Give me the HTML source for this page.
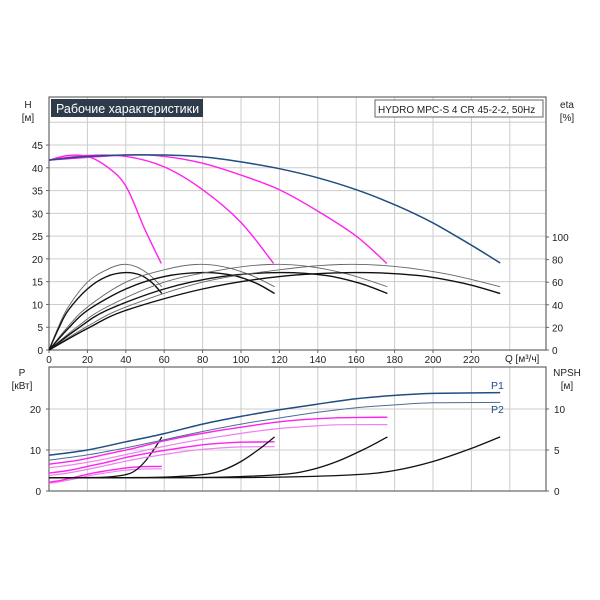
<!DOCTYPE html>
<html><head><meta charset="utf-8"><style>
body{margin:0;background:#fff}
svg{display:block;font-family:"Liberation Sans",sans-serif}
</style></head><body>
<svg id="c" width="600" height="600"></svg>
<script>
// ---------- data ----------
const qTicks=[0,20,40,60,80,100,120,140,160,180,200,220];
const hTicks=[0,5,10,15,20,25,30,35,40,45];
const etaTicks=[0,20,40,60,80,100];
const pTicks=[0,10,20];
const npshTicks=[0,5,10];
const pumpCounts=[1,2,3,4];
// H curves (Q, H)
const hBlueQ=[0,20,40,60,80,100,120,140,160,180,200,220,235];
const hBlueH=[41.7,42.5,42.8,42.8,42.4,41.3,39.8,37.8,35.2,31.9,27.9,23,19.1];
const h1Q=[0,10,20,30,40,50,58.5];
const h1H=[41.7,42.7,42.5,40.3,36,26.4,19];
const h2Q=[0,20,40,60,80,100,117];
const h2H=[41.7,42.7,42.5,40.2,35.2,28,19];
const h3Q=[0,40,60,80,100,120,140,160,176];
const h3H=[41.7,42.8,42.5,41,38.4,35.2,30.5,25,19];
// eta per single pump (scaled by pump count in Q)
const etaBaseQ=[0,5,10,20,30,38,45,52,58.75];
const etaThin=[0,21,38,60,71,75.7,74,67,56];
const etaThickQ=[0,5,10,20,30,40,48,54,58.75];
const etaThick=[0,19,35,54,65,68.5,66,59,50];
// power per pump (scaled by pump count)
const pBaseQ=[0,5,10,15,20,25,30,35,40,45,50,58.75];
const p1Base=[2.18,2.5,3,3.5,4.08,4.55,4.95,5.3,5.63,5.83,5.95,6.0];
const p2Base=[1.88,2.2,2.63,3.13,3.63,4.08,4.45,4.8,5.08,5.25,5.38,5.4];
// NPSH per pump (Q scaled by pump count)
const npshQ=[0,20,30,40,45,50,55,58.75];
const npshV=[1.62,1.63,1.7,2.0,2.5,3.6,5.2,6.6];

// ---------- axes ----------
const L=49,R=546,T1=97,B1=350,T2=367,B2=491;
const xQ=q=>L+q*1.92;
const yH=h=>B1-h*4.555;
const yEta=e=>B1-e*1.13;
const yP=p=>B2-p*4.1;
const yN=n=>B2-n*8.2;

const svg=document.getElementById('c');
const NS='http://www.w3.org/2000/svg';
function mk(tag,attrs,parent){const e=document.createElementNS(NS,tag);for(const k in attrs)e.setAttribute(k,attrs[k]);(parent||svg).appendChild(e);return e;}
function txt(x,y,s,anchor,size,fill,name){const t=mk('text',{x:x,y:y,'text-anchor':anchor||'start','font-size':size||11,fill:fill||'#222'});t.textContent=s;return t;}
function line(xs,ys,fx,fy,stroke,w,name){
  const P=xs.map((x,i)=>[fx(x),fy(ys[i])]);
  let d='M'+P[0][0].toFixed(1)+','+P[0][1].toFixed(1);
  for(let i=0;i<P.length-1;i++){
    const p0=P[i-1]||P[i],p1=P[i],p2=P[i+1],p3=P[i+2]||P[i+1];
    const c1=[p1[0]+(p2[0]-p0[0])/6,p1[1]+(p2[1]-p0[1])/6];
    const c2=[p2[0]-(p3[0]-p1[0])/6,p2[1]-(p3[1]-p1[1])/6];
    d+='C'+c1[0].toFixed(1)+','+c1[1].toFixed(1)+' '+c2[0].toFixed(1)+','+c2[1].toFixed(1)+' '+p2[0].toFixed(1)+','+p2[1].toFixed(1);
  }
  const p=mk('path',{d:d,fill:'none',stroke:stroke,'stroke-width':w});return p;}

// grids
const g=mk('g',{});


qTicks.concat([240]).forEach(q=>{if(q>0){mk('line',{x1:xQ(q),x2:xQ(q),y1:T1,y2:B1,stroke:'#ccc','stroke-width':1},g);mk('line',{x1:xQ(q),x2:xQ(q),y1:T2,y2:B2,stroke:'#ccc','stroke-width':1},g);}});
hTicks.concat([50]).forEach(h=>{if(h>0)mk('line',{x1:L,x2:R,y1:yH(h),y2:yH(h),stroke:'#ccc','stroke-width':1},g);});
[10,20].forEach(p=>mk('line',{x1:L,x2:R,y1:yP(p),y2:yP(p),stroke:'#ccc','stroke-width':1},g));
// frames
[[T1,B1],[T2,B2]].forEach((a,i)=>{const r=mk('rect',{x:L,y:a[0],width:R-L,height:a[1]-a[0],fill:'none',stroke:'#666','stroke-width':1.2});});

// tick labels
qTicks.forEach(q=>{txt(xQ(q),363,String(q),'middle',10,'#222','q-tick-label');mk('line',{x1:xQ(q),x2:xQ(q),y1:B1,y2:B1+3,stroke:'#666'});});
txt(505,362,'Q [м³/ч]','start',10,'#222','x-axis-title');
hTicks.forEach(h=>{txt(43,yH(h)+4,String(h),'end',10,'#222','h-tick-label');mk('line',{x1:L-3,x2:L,y1:yH(h),y2:yH(h),stroke:'#666'});});
etaTicks.forEach(e=>{txt(552,yEta(e)+4,String(e),'start',10,'#222','eta-tick-label');mk('line',{x1:R,x2:R+3,y1:yEta(e),y2:yEta(e),stroke:'#666'});});
pTicks.forEach(p=>{txt(41,yP(p)+4,String(p),'end',10,'#222','p-tick-label');mk('line',{x1:L-3,x2:L,y1:yP(p),y2:yP(p),stroke:'#666'});});
npshTicks.forEach(n=>{txt(554,yN(n)+4,String(n),'start',10,'#222','npsh-tick-label');mk('line',{x1:R,x2:R+3,y1:yN(n),y2:yN(n),stroke:'#666'});});
txt(28,108,'H','middle',10,'#222','h-axis-title');txt(28,121,'[м]','middle',10,'#222','h-axis-unit');
txt(567,108,'eta','middle',10,'#222','eta-axis-title');txt(567,121,'[%]','middle',10,'#222','eta-axis-unit');
txt(22,376,'P','middle',10,'#222','p-axis-title');txt(22,389,'[кВт]','middle',10,'#222','p-axis-unit');
txt(567,376,'NPSH','middle',10,'#222','npsh-axis-title');txt(567,389,'[м]','middle',10,'#222','npsh-axis-unit');

// title boxes
const tb=mk('rect',{x:51,y:99,width:152,height:18,fill:'#2e3b4b'});

txt(56,113,'Рабочие характеристики','start',12.5,'#fff','chart-title');
const lb=mk('rect',{x:375,y:100,width:168,height:17,fill:'#fff',stroke:'#666','stroke-width':1});

txt(378,113,'HYDRO MPC-S 4 CR 45-2-2, 50Hz','start',10,'#222','model-label');

// eta curves
pumpCounts.forEach(n=>{
  line(etaBaseQ.map(q=>q*n),etaThin,xQ,yEta,'#666',0.9,'eta-curve-thin');
  line(etaThickQ.map(q=>q*n),etaThick,xQ,yEta,'#111',1.4,'eta-curve-thick');
});
// H curves
line(h1Q,h1H,xQ,yH,'#ff22ee',1.4,'head-curve-1-pump');
line(h2Q,h2H,xQ,yH,'#ff22ee',1.4,'head-curve-2-pumps');
line(h3Q,h3H,xQ,yH,'#ff22ee',1.4,'head-curve-3-pumps');
line(hBlueQ,hBlueH,xQ,yH,'#1f4e80',1.5,'head-curve-4-pumps');

// power curves
pumpCounts.forEach(n=>{
  const blue=n===4;
  line(pBaseQ.map(q=>q*n),p2Base.map(p=>p*n),xQ,yP,blue?'#4a6d93':'#f080f0',blue?1:1.2,'p2-curve');
  line(pBaseQ.map(q=>q*n),p1Base.map(p=>p*n),xQ,yP,blue?'#1f4e80':'#ff22ee',blue?1.5:1.4,'p1-curve');
  line(npshQ.map(q=>q*n),npshV,xQ,yN,'#111',1.3,'npsh-curve');
});
txt(491,389,'P1','start',10.5,'#1f4e80','p1-label');
txt(491,413,'P2','start',10.5,'#1f4e80','p2-label');
</script>
</body></html>
